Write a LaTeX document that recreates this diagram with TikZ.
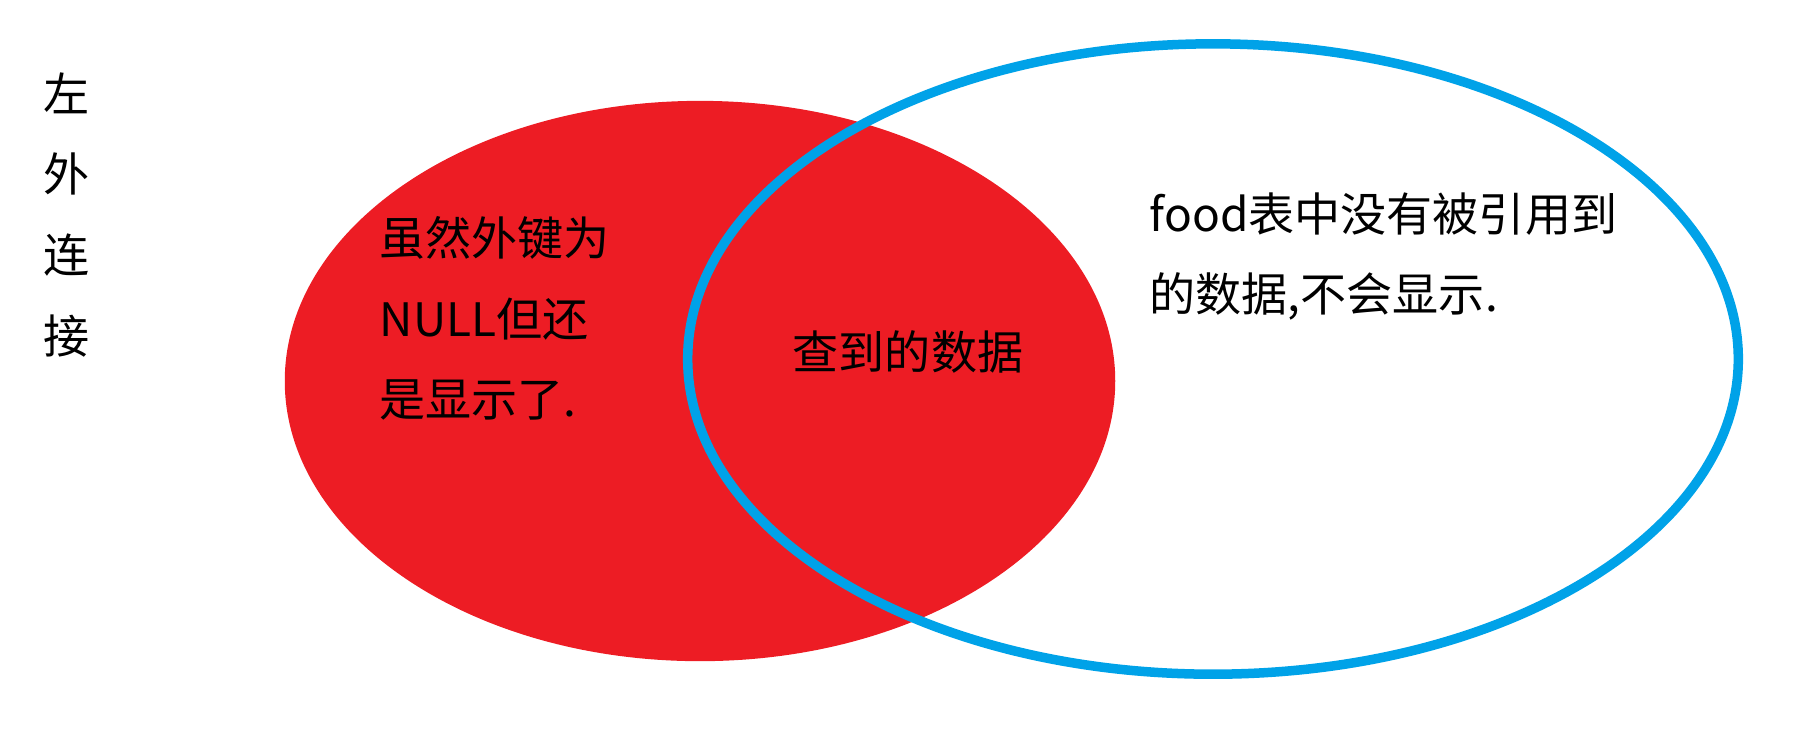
\documentclass[tikz,border=0pt]{standalone}
\usepackage{fontspec}
\usepackage{tikz}
\usetikzlibrary{shapes.geometric}
\newfontfamily\cjk{Noto Sans CJK SC}
\definecolor{SetRed}{RGB}{237,28,36}
\definecolor{SetBlue}{RGB}{0,162,232}
\tikzset{
  leftset/.style={
    ellipse,
    fill=SetRed,
    inner sep=0pt,
    minimum width=8.30cm,
    minimum height=5.60cm
  },
  rightset/.style={
    ellipse,
    draw=SetBlue,
    line width=0.095cm,
    inner sep=0pt,
    minimum width=10.50cm,
    minimum height=6.30cm
  },
  note/.style={
    inner sep=0pt,
    align=left,
    font=\cjk\fontsize{13.1pt}{22.9pt}\selectfont
  }
}
\begin{document}
\begin{tikzpicture}[x=0.01cm,y=-0.01cm]
    \useasboundingbox (0,0) rectangle (1809,744);
    \node[leftset] (left) at (700,381) {};
    \node[rightset] (right) at (1213,359) {};
    \node[note,align=center,anchor=north] (title) at (67,72) {左\\外\\连\\接};
    \node[note,anchor=north west] (leftonly) at (379,216) {虽然外键为\\NULL但还\\是显示了.};
    \node[note] (both) at (908,352) {查到的数据};
    \node[note,anchor=north west] (rightonly) at (1149,192) {food表中没有被引用到\\的数据,不会显示.};
  \end{tikzpicture}
\end{document}
